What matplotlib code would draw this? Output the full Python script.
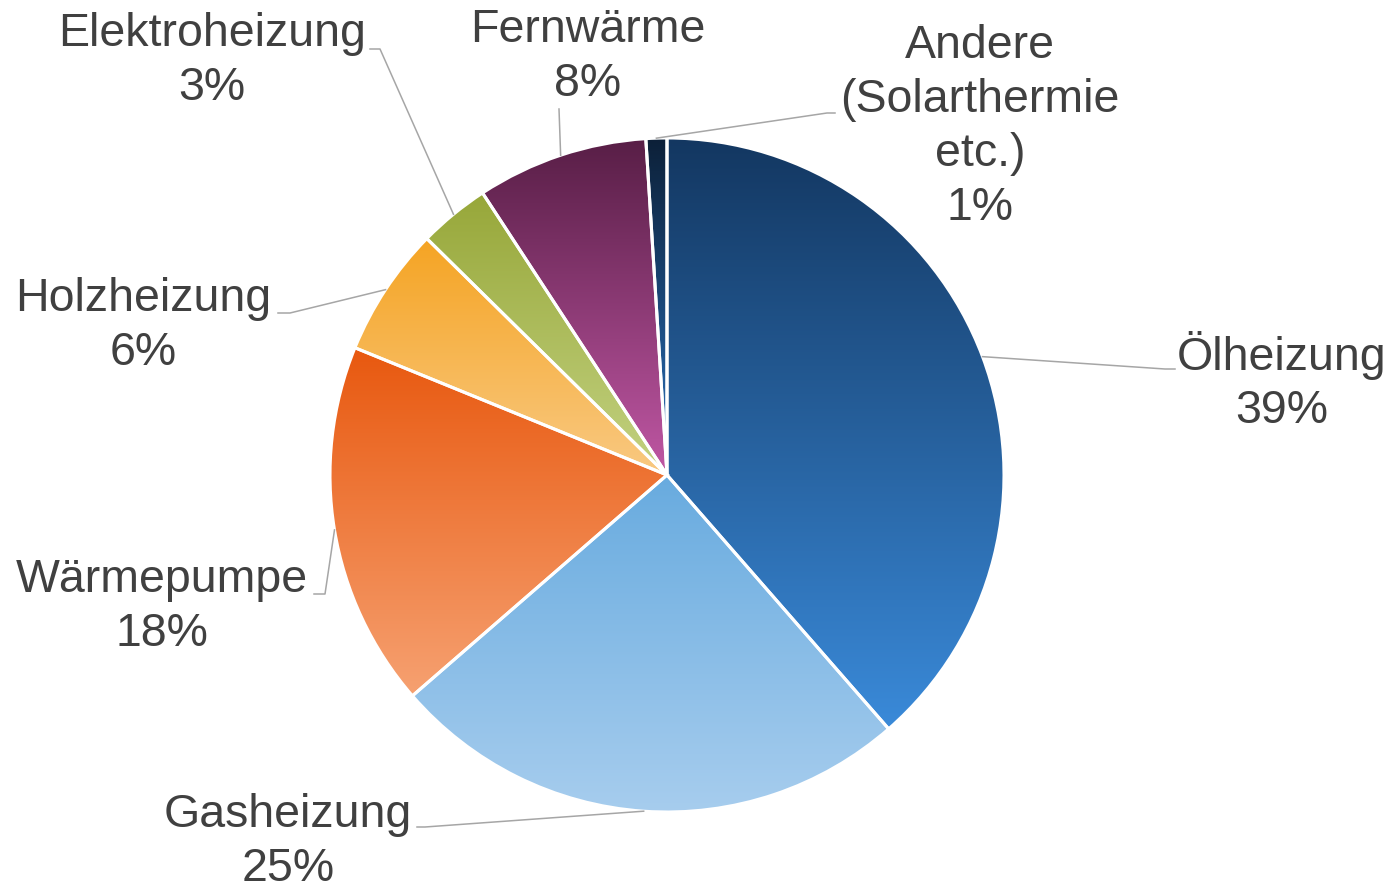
import matplotlib
matplotlib.use("Agg")
import matplotlib.pyplot as plt
import numpy as np
from matplotlib.colors import LinearSegmentedColormap

plt.rcParams['font.family'] = ['Liberation Sans', 'DejaVu Sans']

# Data (shares, percent)
labels = ['Ölheizung', 'Gasheizung', 'Wärmepumpe', 'Holzheizung',
          'Elektroheizung', 'Fernwärme', 'Andere\n(Solarthermie\netc.)']
values = [38.5, 25.0, 17.5, 6.2, 3.4, 8.2, 1.0]
pct_labels = ['39%', '25%', '18%', '6%', '3%', '8%', '1%']

# gradient colours, top -> bottom of each wedge
top_colors = ['#133761', '#68abdf', '#e8580f', '#f5a423', '#97a739', '#581e46', '#0c2038']
bot_colors = ['#3a8ad9', '#a7cdee', '#f6a171', '#f9c982', '#c3d281', '#c057a4', '#2b72bd']

W, H = 1391, 888
CX, CY, R = 667, 475, 337  # pie centre / radius in pixels


def px(x, y):
    # pixel position -> data coords (pie radius = 1)
    return (x - CX) / R, (CY - y) / R


# label block centres and leader elbows (pixels)
label_pos = [(1282, 382), (288, 842), (162, 607), (143, 326),
             (212, 61), (588, 57), (980, 127)]
elbows = [[(1165, 369), (1175, 369)],
          [(425, 827), (417, 827)],
          [(325, 594), (314, 594)],
          [(290, 313), (278, 313)],
          [(380, 49), (370, 49)],
          [(559, 109)],
          [(827, 113), (835, 113)]]

fig = plt.figure(figsize=(W / 100, H / 100), dpi=100)
ax = fig.add_axes([0, 0, 1, 1])
ax.axis('off')

wedges, _ = ax.pie(values, startangle=90, counterclock=False, radius=1,
                   colors=bot_colors, wedgeprops=dict(linewidth=0))

grad = np.linspace(0, 1, 256).reshape(-1, 1)
for w, c0, c1 in zip(wedges, top_colors, bot_colors):
    verts = w.get_path().vertices
    x0, x1 = verts[:, 0].min(), verts[:, 0].max()
    y0, y1 = verts[:, 1].min(), verts[:, 1].max()
    cmap = LinearSegmentedColormap.from_list('g', [c0, c1])
    im = ax.imshow(grad, cmap=cmap, extent=[x0, x1, y0, y1], origin='upper',
                   aspect='auto', zorder=2, interpolation='bicubic')
    im.set_clip_path(w)

# white separators on top
ax.pie(values, startangle=90, counterclock=False, radius=1,
       colors=['none'] * len(values),
       wedgeprops=dict(edgecolor='white', linewidth=2.2, zorder=3))
ax.set_xlim(-CX / R, (W - CX) / R)
ax.set_ylim((CY - H) / R, CY / R)
ax.set_aspect('equal')

for w, lab, pct, pos, elb in zip(wedges, labels, pct_labels, label_pos, elbows):
    mid = np.deg2rad((w.theta1 + w.theta2) / 2)
    pts = [(np.cos(mid), np.sin(mid))] + [px(*p) for p in elb]
    xs, ys = zip(*pts)
    ax.plot(xs, ys, color='#a6a6a6', lw=1.1, zorder=4)
    tx, ty = px(*pos)
    ax.text(tx, ty, lab + '\n' + pct, ha='center', va='center', fontsize=33.5,
            color='#404040', linespacing=1.29, zorder=5)

fig.savefig('out.png', dpi=100)
